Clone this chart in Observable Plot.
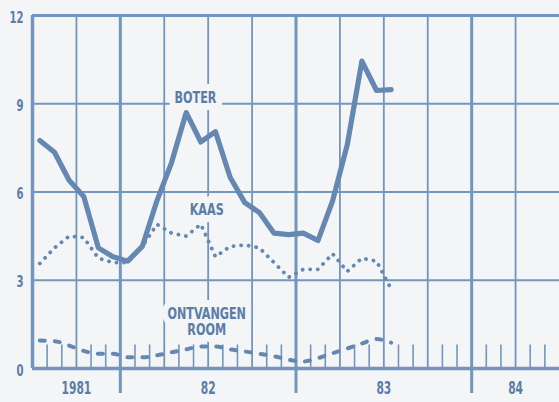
<!DOCTYPE html>
<html><head><meta charset="utf-8">
<script src="https://cdn.jsdelivr.net/npm/d3@7"></script>
<script src="https://cdn.jsdelivr.net/npm/@observablehq/plot@0.6"></script>
<style>
html,body{margin:0;padding:0;background:#f3f5f6;}
#chart svg{display:block;}
</style></head><body><div id="chart"></div>
<script>
// Monthly observations (mid-month), July 1981 – July 1983
const months = ["1981-07","1981-08","1981-09","1981-10","1981-11","1981-12",
  "1982-01","1982-02","1982-03","1982-04","1982-05","1982-06","1982-07","1982-08","1982-09","1982-10","1982-11","1982-12",
  "1983-01","1983-02","1983-03","1983-04","1983-05","1983-06","1983-07"];
const boter = [7.75,7.35,6.4,5.85,4.1,3.8,3.65,4.15,5.7,7.0,8.7,7.7,8.05,6.5,5.64,5.3,4.6,4.55,4.6,4.35,5.7,7.6,10.45,9.45,9.48];
const kaas  = [3.57,4.1,4.5,4.45,3.75,3.6,3.6,4.15,4.9,4.6,4.5,4.9,3.8,4.15,4.2,4.1,3.6,3.1,3.37,3.37,3.9,3.3,3.75,3.65,2.7];
const room  = [0.95,0.93,0.78,0.6,0.5,0.5,0.38,0.38,0.45,0.55,0.65,0.75,0.75,0.65,0.58,0.5,0.42,0.3,0.24,0.35,0.52,0.68,0.85,1.0,0.88];

const yTicks = [0,3,6,9,12];
const yearLabels = ["1981","82","83","84"];
const yearLabelMonths = ["1981-10","1982-07","1983-07","1984-04"];
const domainMonths = ["1981-07","1984-07"];

const seriesLabels = [
  {text:"BOTER", month:"1982-06", frac:0.13, yv:9.19},
  {text:"KAAS", month:"1982-06", frac:0.9, yv:5.4},
  {text:"ONTVANGEN\nROOM", month:"1982-06", frac:0.9, yv:1.6}
];

const monthNum = s => { const [y,m] = s.split("-").map(Number); return (y-1981)*12 + (m-1); };
const data = months.map((m,i)=>({x: monthNum(m)+0.5, boter: boter[i], kaas: kaas[i], room: room[i]}));
const [m0, m1] = domainMonths.map(monthNum);
const allMonths = d3.range(m0, m1);
const quarterLines = allMonths.filter(m => m % 3 === 0 && m % 12 !== 0 && m !== m0);
const yearLines = allMonths.filter(m => m % 12 === 0);
const monthTicks = allMonths.filter(m => m % 3 !== 0);
const yearLabelMap = new Map(yearLabelMonths.map((s,i)=>[monthNum(s), yearLabels[i]]));
const labelData = seriesLabels.map(d => ({text:d.text, x: monthNum(d.month)+d.frac, y: d.yv}));

const bg = "#f3f5f6";
const ink = "#6588b2";
const gridc = "#7396bf";
const txt = "#5a7da8";
const font = "'DejaVu Sans Condensed', 'DejaVu Sans', sans-serif";

const chart = Plot.plot({
  width: 559, height: 402,
  marginLeft: 32, marginRight: 0, marginTop: 15, marginBottom: 34,
  style: {background: bg, fontFamily: font, color: txt},
  x: {domain: [m0, m1], axis: null},
  y: {domain: [0, 12], axis: null},
  marks: [
    Plot.ruleY([3,6,9], {x1: m0, x2: m1, stroke: gridc, strokeWidth: 1.8}),
    Plot.ruleX(quarterLines, {y1: 0, y2: 12, stroke: gridc, strokeWidth: 1.8}),
    Plot.ruleX(monthTicks, {y1: 0, y2: 0.8, stroke: gridc, strokeWidth: 1.6}),
    Plot.ruleX(yearLines, {y1: -0.85, y2: 12, stroke: gridc, strokeWidth: 3}),
    Plot.ruleX([m0], {y1: 0, y2: 12, stroke: gridc, strokeWidth: 3.5}),
    Plot.ruleY([12], {x1: m0, x2: m1, stroke: gridc, strokeWidth: 3}),
    Plot.ruleY([0], {x1: m0, x2: m1, stroke: gridc, strokeWidth: 3.5}),
    Plot.text(labelData, {x: "x", y: "y", text: "text", fill: "none", stroke: bg, strokeWidth: 14, strokeLinejoin: "round",
      fontSize: 15, fontWeight: "bold", lineHeight: 1.07}),
    Plot.text(labelData, {x: "x", y: "y", text: "text", fill: txt,
      fontSize: 15, fontWeight: "bold", lineHeight: 1.07}),
    Plot.line(data, {x: "x", y: "room", stroke: ink, strokeWidth: 4, strokeDasharray: "5,10", strokeLinecap: "round", curve: "monotone-x"}),
    Plot.line(data, {x: "x", y: "kaas", stroke: ink, strokeWidth: 3.8, strokeDasharray: "0.1,7.5", strokeLinecap: "round"}),
    Plot.line(data, {x: "x", y: "boter", stroke: ink, strokeWidth: 5.2, strokeLinejoin: "round"}),
    Plot.axisY(yTicks, {label: null, tickSize: 0, tickPadding: 9, dy: 2, fontSize: 16, fontWeight: "bold", fill: txt}),
    Plot.axisX([...yearLabelMap.keys()], {label: null, tickSize: 0, tickPadding: 13, fontSize: 17, fontWeight: "bold", fill: txt,
      tickFormat: d => yearLabelMap.get(d)})
  ]
});
// condense the glyphs horizontally (the reference uses a narrow typeface)
const seriesTextSet = new Set(seriesLabels.map(d => d.text.replace(/\n/g, "")));
chart.querySelectorAll("text").forEach(t => {
  const s = seriesTextSet.has(t.textContent) ? 0.83 : 0.7;
  const tr = t.getAttribute("transform") || "";
  t.setAttribute("transform", (tr + ` scale(${s},1)`).trim());
});
document.getElementById("chart").appendChild(chart);
</script></body></html>
